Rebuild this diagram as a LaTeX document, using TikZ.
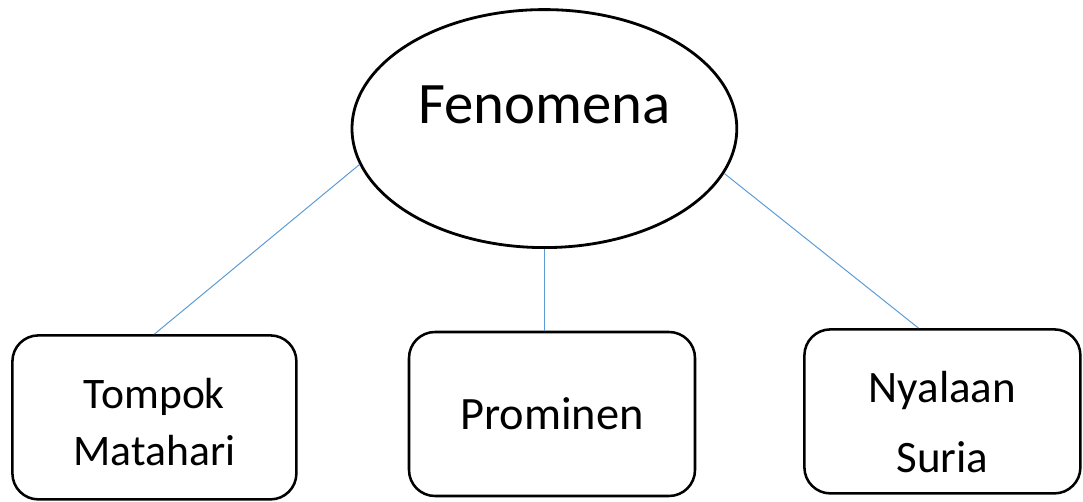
\documentclass[tikz,border=0pt]{standalone}
\usepackage{fontspec}
\setmainfont{Carlito}
\usetikzlibrary{shapes.geometric}
\definecolor{linkblue}{RGB}{91,155,213}
\newcommand{\toppad}[1]{\rule{0pt}{#1}}
\begin{document}
\begin{tikzpicture}[
	topic/.style={draw, ellipse, line width=2pt, minimum width=9.62cm, minimum height=5.95cm,
		font=\fontsize{41.8}{49}\selectfont, text depth=1.2cm},
	subtopic/.style={draw, rectangle, rounded corners=0.65cm, line width=1.8pt, minimum width=7.1cm,
		minimum height=4.1cm, align=center},
	link/.style={draw=linkblue, line width=0.7pt}
	]
	\useasboundingbox (0,0) rectangle (27.075,12.525);

	% FENOMENA
	\node[topic] (fen) at (13.61,9.31) {Fenomena};

	% SUBTOPICS
	\node[subtopic, font=\fontsize{31}{40.5}\selectfont] (tompok) at (3.86,2.09) {\toppad{0.98cm}Tompok\\Matahari};
	\node[subtopic, font=\fontsize{33}{40}\selectfont, minimum width=7.15cm] (prominen) at (13.8,2.175) {Prominen};
	\node[subtopic, font=\fontsize{32}{50}\selectfont, minimum width=6.9cm] (nyalaan) at (23.56,2.24) {\toppad{1.3cm}Nyalaan\\Suria};

	% LINKS
	\draw[link] (fen.191) -- (tompok.north);
	\draw[link] (fen.south) -- (fen.south |- prominen.north);
	\draw[link] (fen.346) -- (nyalaan.106);
\end{tikzpicture}
\end{document}
